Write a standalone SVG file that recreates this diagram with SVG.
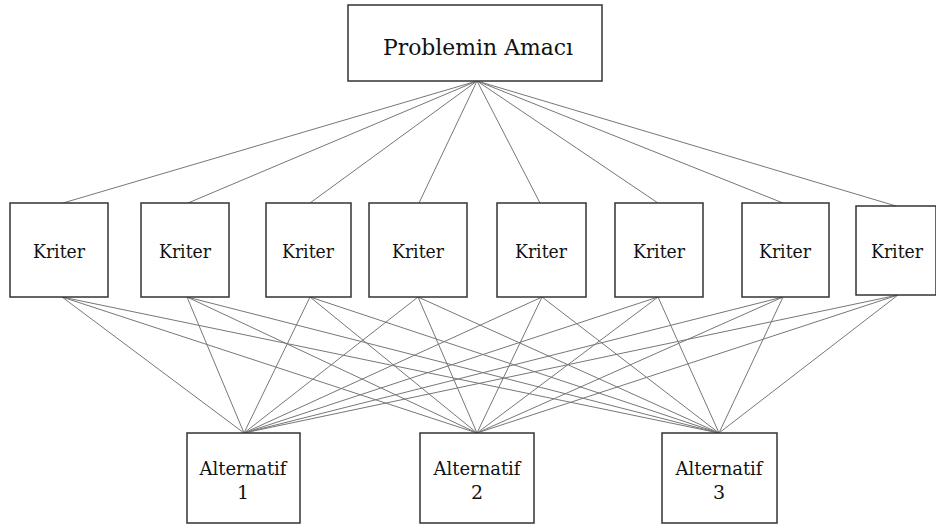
<svg xmlns="http://www.w3.org/2000/svg" width="936" height="525" viewBox="0 0 936 525">
<style>
.box{fill:#fff;stroke:#333;stroke-width:1.5}
.lbl{fill:#111;text-anchor:middle;font-family:"DejaVu Serif",serif}
.k{font-size:19px}
.t{font-size:23px}
.a{font-size:19px}
#connectors line{stroke:#777;stroke-width:1}
</style>
<rect width="936" height="525" fill="#fff"/>
<g id="connectors">
<line x1="477" y1="81" x2="63" y2="203"/>
<line x1="477" y1="81" x2="188" y2="203"/>
<line x1="477" y1="81" x2="310" y2="203"/>
<line x1="477" y1="81" x2="419" y2="203"/>
<line x1="477" y1="81" x2="540" y2="203"/>
<line x1="477" y1="81" x2="658" y2="203"/>
<line x1="477" y1="81" x2="783" y2="203"/>
<line x1="477" y1="81" x2="896" y2="206"/>
<line x1="62" y1="297" x2="244" y2="433"/>
<line x1="62" y1="297" x2="477" y2="433"/>
<line x1="62" y1="297" x2="719" y2="433"/>
<line x1="187" y1="297" x2="244" y2="433"/>
<line x1="187" y1="297" x2="477" y2="433"/>
<line x1="187" y1="297" x2="719" y2="433"/>
<line x1="310" y1="297" x2="244" y2="433"/>
<line x1="310" y1="297" x2="477" y2="433"/>
<line x1="310" y1="297" x2="719" y2="433"/>
<line x1="418" y1="297" x2="244" y2="433"/>
<line x1="418" y1="297" x2="477" y2="433"/>
<line x1="418" y1="297" x2="719" y2="433"/>
<line x1="542" y1="297" x2="244" y2="433"/>
<line x1="542" y1="297" x2="477" y2="433"/>
<line x1="542" y1="297" x2="719" y2="433"/>
<line x1="658" y1="297" x2="244" y2="433"/>
<line x1="658" y1="297" x2="477" y2="433"/>
<line x1="658" y1="297" x2="719" y2="433"/>
<line x1="783" y1="297" x2="244" y2="433"/>
<line x1="783" y1="297" x2="477" y2="433"/>
<line x1="783" y1="297" x2="719" y2="433"/>
<line x1="898" y1="295" x2="244" y2="433"/>
<line x1="898" y1="295" x2="477" y2="433"/>
<line x1="898" y1="295" x2="719" y2="433"/>
</g>
<g id="goal">
<rect class="box" x="348" y="5" width="254" height="76"/>
<text class="lbl t" x="478" y="55" textLength="190" lengthAdjust="spacingAndGlyphs">Problemin Amacı</text>
</g>
<g id="k1"><rect class="box" x="10" y="203" width="98" height="94"/><text class="lbl k" x="59" y="258" textLength="52" lengthAdjust="spacingAndGlyphs">Kriter</text></g>
<g id="k2"><rect class="box" x="141" y="203" width="88" height="94"/><text class="lbl k" x="185" y="258" textLength="52" lengthAdjust="spacingAndGlyphs">Kriter</text></g>
<g id="k3"><rect class="box" x="266" y="203" width="85" height="94"/><text class="lbl k" x="308" y="258" textLength="52" lengthAdjust="spacingAndGlyphs">Kriter</text></g>
<g id="k4"><rect class="box" x="369" y="203" width="98" height="94"/><text class="lbl k" x="418" y="258" textLength="52" lengthAdjust="spacingAndGlyphs">Kriter</text></g>
<g id="k5"><rect class="box" x="497" y="203" width="89" height="94"/><text class="lbl k" x="541" y="258" textLength="52" lengthAdjust="spacingAndGlyphs">Kriter</text></g>
<g id="k6"><rect class="box" x="615" y="203" width="88" height="94"/><text class="lbl k" x="659" y="258" textLength="52" lengthAdjust="spacingAndGlyphs">Kriter</text></g>
<g id="k7"><rect class="box" x="742" y="203" width="87" height="94"/><text class="lbl k" x="785" y="258" textLength="52" lengthAdjust="spacingAndGlyphs">Kriter</text></g>
<g id="k8"><rect class="box" x="856" y="206" width="80" height="89"/><text class="lbl k" x="897" y="258" textLength="52" lengthAdjust="spacingAndGlyphs">Kriter</text></g>
<g id="a1"><rect class="box" x="187" y="433" width="113" height="90"/><text class="lbl a" x="243" y="475" textLength="87" lengthAdjust="spacingAndGlyphs">Alternatif</text><text class="lbl a" x="243" y="499">1</text></g>
<g id="a2"><rect class="box" x="420" y="433" width="114" height="90"/><text class="lbl a" x="477" y="475" textLength="87" lengthAdjust="spacingAndGlyphs">Alternatif</text><text class="lbl a" x="477" y="499">2</text></g>
<g id="a3"><rect class="box" x="662" y="433" width="115" height="90"/><text class="lbl a" x="719" y="475" textLength="87" lengthAdjust="spacingAndGlyphs">Alternatif</text><text class="lbl a" x="719" y="499">3</text></g>
</svg>
